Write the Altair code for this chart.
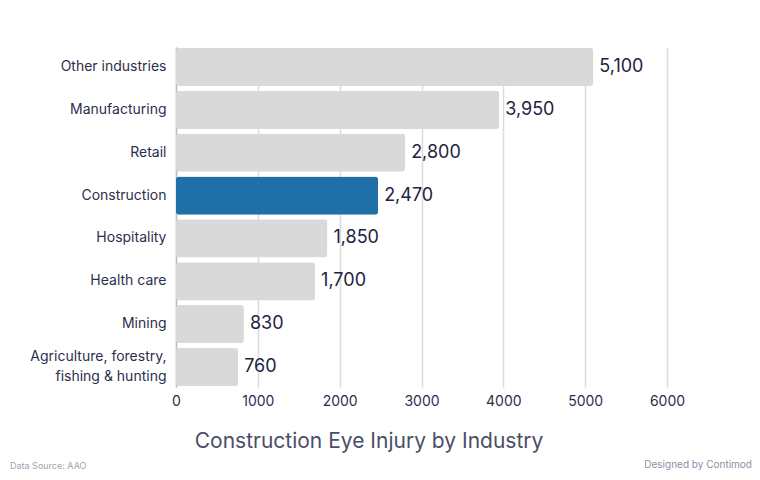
import altair as alt
import pandas as pd

industries = ["Other industries", "Manufacturing", "Retail", "Construction",
              "Hospitality", "Health care", "Mining",
              "Agriculture, forestry, fishing & hunting"]
injuries = [5100, 3950, 2800, 2470, 1850, 1700, 830, 760]
highlight = "Construction"

df = pd.DataFrame({"industry": industries, "injuries": injuries})
df["label"] = df["injuries"].map(lambda v: f"{v:,}")

FONT = "Inter"
W, H = 491, 340
LONG = "Agriculture, forestry, fishing & hunting"

base = alt.Chart(df)

y_enc = alt.Y("industry:N", sort=industries,
              scale=alt.Scale(paddingInner=0.11, paddingOuter=0.02),
              axis=alt.Axis(title=None, ticks=False, labelPadding=10,
                            labelFontSize=14, labelColor="#2b2f4e", labelFont=FONT,
                            labelLineHeight=20,
                            labelOffset={"condition": {"test": f"datum.value == '{LONG}'", "value": -10}, "value": 0},
                            domainColor="#bfbfbf", domainWidth=1.5,
                            labelExpr=f"datum.label == '{LONG}' ? ['Agriculture, forestry,', 'fishing & hunting'] : datum.label"))

bars = base.mark_bar(cornerRadius=3).encode(
    x=alt.X("injuries:Q", scale=alt.Scale(domain=[0, 6000]),
            axis=alt.Axis(title=None, values=[0, 1000, 2000, 3000, 4000, 5000, 6000],
                          format="d", ticks=False, domain=False, labelPadding=7,
                          labelFlush=False,
                          labelFontSize=14, labelColor="#2b2f4e", labelFont=FONT,
                          grid=True, gridColor="#dcdcdc", gridWidth=1.5)),
    y=y_enc,
    color=alt.condition(alt.datum.industry == highlight,
                        alt.value("#1f70a9"), alt.value("#d9d9d9")),
)

labels = base.mark_text(align="left", baseline="middle", dx=6, fontSize=18,
                        font=FONT, color="#1e2340").encode(
    x="injuries:Q",
    y=alt.Y("industry:N", sort=industries),
    text="label:N",
)

title = alt.Chart(pd.DataFrame({"t": ["Construction Eye Injury by Industry"]})).mark_text(
    align="center", baseline="middle", fontSize=21, font=FONT, color="#4a4e69"
).encode(x=alt.value(193), y=alt.value(395), text="t:N")

src = alt.Chart(pd.DataFrame({"t": ["Data Source: AAO"]})).mark_text(
    align="left", baseline="middle", fontSize=9, font=FONT, color="#a0a3b1"
).encode(x=alt.value(-166), y=alt.value(419), text="t:N")

designed = alt.Chart(pd.DataFrame({"t": ["Designed by Contimod"]})).mark_text(
    align="right", baseline="middle", fontSize=10, font=FONT, color="#8c90a3"
).encode(x=alt.value(576), y=alt.value(418), text="t:N")

chart = alt.layer(bars, labels, title, src, designed).properties(
    width=W, height=H,
    background="white",
    autosize=alt.AutoSizeParams(type="none"),
    padding={"left": 168, "top": 39, "right": 85, "bottom": 85},
).configure_view(stroke=None)

chart.save("out.html", embed_options={"renderer": "svg", "actions": False})
